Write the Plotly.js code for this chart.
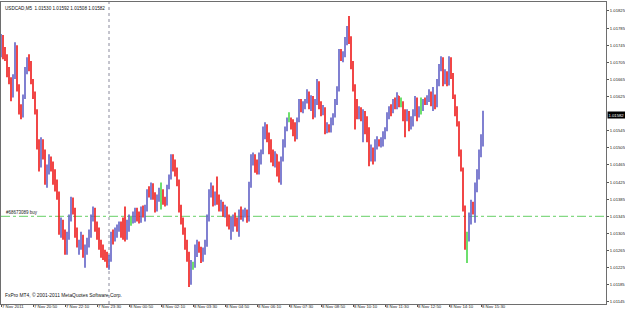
<!DOCTYPE html>
<html>
<head>
<meta charset="utf-8">
<script src="https://cdn.plot.ly/plotly-3.0.1.min.js"></script>
<style>html,body{margin:0;padding:0;background:#fff;}#chart{width:625px;height:313px;}</style>
</head>
<body>
<div id="chart"></div>
<script>
// USDCAD M5 bars, 7 Nov 2011 19:30 onward (5-minute bars)
const FIRST_BAR = '2011-11-07 19:30';
const OPEN = [1.01724,1.01764,1.01724,1.01717,1.01677,1.01661,1.01630,1.01670,1.01741,1.01647,
1.01595,1.01591,1.01623,1.01684,1.01712,1.01694,1.01661,1.01630,1.01591,1.01513,
1.01466,1.01520,1.01490,1.01436,1.01455,1.01478,1.01466,1.01431,1.01419,1.01396,
1.01319,1.01326,1.01302,1.01272,1.01300,1.01342,1.01384,1.01361,1.01309,1.01279,
1.01286,1.01295,1.01255,1.01267,1.01290,1.01302,1.01342,1.01361,1.01319,1.01302,
1.01279,1.01262,1.01255,1.01253,1.01243,1.01248,1.01295,1.01290,1.01309,1.01319,
1.01326,1.01309,1.01300,1.01295,1.01326,1.01337,1.01337,1.01351,1.01361,1.01342,
1.01335,1.01361,1.01349,1.01365,1.01403,1.01394,1.01417,1.01389,1.01365,1.01389,
1.01403,1.01403,1.01379,1.01375,1.01412,1.01436,1.01483,1.01459,1.01445,1.01426,
1.01365,1.01333,1.01309,1.01276,1.01248,1.01197,1.01234,1.01234,1.01267,1.01279,
1.01267,1.01248,1.01262,1.01281,1.01337,1.01396,1.01412,1.01384,1.01394,1.01379,
1.01365,1.01375,1.01351,1.01361,1.01333,1.01323,1.01333,1.01342,1.01328,1.01319,
1.01349,1.01342,1.01354,1.01356,1.01337,1.01419,1.01478,1.01487,1.01459,1.01450,
1.01478,1.01497,1.01544,1.01553,1.01530,1.01501,1.01483,1.01473,1.01490,1.01450,
1.01436,1.01478,1.01513,1.01548,1.01569,1.01569,1.01555,1.01541,1.01530,1.01572,
1.01609,1.01595,1.01605,1.01614,1.01635,1.01605,1.01619,1.01583,1.01612,1.01656,
1.01607,1.01591,1.01598,1.01548,1.01555,1.01546,1.01567,1.01581,1.01612,1.01642,
1.01724,1.01712,1.01722,1.01755,1.01783,1.01759,1.01701,1.01647,1.01595,1.01583,
1.01595,1.01576,1.01583,1.01548,1.01530,1.01478,1.01501,1.01478,1.01513,1.01520,
1.01513,1.01525,1.01537,1.01548,1.01579,1.01595,1.01591,1.01612,1.01605,1.01626,
1.01609,1.01609,1.01576,1.01572,1.01588,1.01553,1.01572,1.01586,1.01619,1.01583,
1.01595,1.01595,1.01614,1.01609,1.01623,1.01633,1.01609,1.01628,1.01605,1.01654,
1.01694,1.01712,1.01661,1.01680,1.01656,1.01712,1.01675,1.01626,1.01591,1.01562,
1.01497,1.01455,1.01365,1.01290,1.01290,1.01342,1.01372,1.01356,1.01412,1.01443,
1.01490,1.01530];
const HIGH = [1.01771,1.01769,1.01741,1.01724,1.01694,1.01670,1.01677,1.01752,1.01745,1.01654,
1.01607,1.01630,1.01694,1.01717,1.01724,1.01708,1.01666,1.01637,1.01595,1.01525,
1.01530,1.01525,1.01501,1.01466,1.01490,1.01485,1.01473,1.01455,1.01431,1.01403,
1.01342,1.01337,1.01314,1.01309,1.01349,1.01391,1.01389,1.01365,1.01319,1.01290,
1.01309,1.01302,1.01279,1.01295,1.01314,1.01349,1.01368,1.01365,1.01333,1.01319,
1.01290,1.01279,1.01267,1.01262,1.01255,1.01309,1.01314,1.01319,1.01326,1.01333,
1.01333,1.01342,1.01368,1.01337,1.01349,1.01344,1.01356,1.01365,1.01365,1.01356,
1.01368,1.01370,1.01372,1.01408,1.01415,1.01424,1.01422,1.01401,1.01396,1.01412,
1.01424,1.01408,1.01391,1.01419,1.01443,1.01490,1.01490,1.01478,1.01459,1.01431,
1.01372,1.01342,1.01319,1.01290,1.01262,1.01243,1.01239,1.01279,1.01290,1.01286,
1.01274,1.01272,1.01290,1.01349,1.01408,1.01424,1.01417,1.01403,1.01438,1.01396,
1.01384,1.01379,1.01372,1.01368,1.01349,1.01344,1.01349,1.01354,1.01342,1.01361,
1.01368,1.01361,1.01365,1.01361,1.01426,1.01490,1.01494,1.01490,1.01478,1.01494,
1.01501,1.01555,1.01565,1.01560,1.01541,1.01525,1.01501,1.01497,1.01490,1.01473,
1.01485,1.01525,1.01555,1.01576,1.01588,1.01576,1.01572,1.01565,1.01576,1.01619,
1.01619,1.01614,1.01619,1.01642,1.01637,1.01628,1.01626,1.01619,1.01666,1.01661,
1.01614,1.01605,1.01600,1.01565,1.01560,1.01576,1.01586,1.01619,1.01649,1.01736,
1.01736,1.01731,1.01764,1.01790,1.01813,1.01766,1.01708,1.01654,1.01619,1.01602,
1.01600,1.01595,1.01591,1.01579,1.01553,1.01513,1.01506,1.01525,1.01532,1.01525,
1.01530,1.01544,1.01553,1.01588,1.01602,1.01607,1.01619,1.01623,1.01635,1.01626,
1.01623,1.01614,1.01595,1.01595,1.01591,1.01579,1.01595,1.01626,1.01623,1.01602,
1.01623,1.01619,1.01623,1.01628,1.01642,1.01637,1.01647,1.01630,1.01666,1.01701,
1.01719,1.01717,1.01689,1.01684,1.01719,1.01717,1.01680,1.01630,1.01602,1.01567,
1.01501,1.01459,1.01370,1.01309,1.01354,1.01384,1.01379,1.01424,1.01455,1.01501,
1.01537,1.01592];
const LOW = [1.01717,1.01712,1.01708,1.01670,1.01654,1.01614,1.01623,1.01666,1.01637,1.01583,
1.01572,1.01576,1.01619,1.01677,1.01684,1.01654,1.01619,1.01583,1.01501,1.01450,
1.01459,1.01478,1.01419,1.01412,1.01443,1.01450,1.01419,1.01403,1.01384,1.01302,
1.01295,1.01290,1.01255,1.01255,1.01290,1.01333,1.01349,1.01295,1.01272,1.01255,
1.01267,1.01248,1.01225,1.01255,1.01272,1.01295,1.01333,1.01309,1.01290,1.01267,
1.01248,1.01243,1.01239,1.01225,1.01220,1.01239,1.01279,1.01286,1.01295,1.01309,
1.01295,1.01290,1.01286,1.01290,1.01309,1.01323,1.01328,1.01330,1.01333,1.01328,
1.01330,1.01342,1.01333,1.01356,1.01389,1.01384,1.01384,1.01354,1.01356,1.01379,
1.01361,1.01372,1.01368,1.01370,1.01408,1.01431,1.01450,1.01438,1.01415,1.01354,
1.01326,1.01302,1.01267,1.01239,1.01180,1.01185,1.01220,1.01225,1.01250,1.01260,
1.01236,1.01239,1.01255,1.01274,1.01333,1.01389,1.01368,1.01370,1.01372,1.01356,
1.01356,1.01344,1.01342,1.01321,1.01314,1.01290,1.01309,1.01321,1.01309,1.01297,
1.01337,1.01333,1.01342,1.01330,1.01333,1.01412,1.01464,1.01447,1.01443,1.01443,
1.01466,1.01490,1.01525,1.01518,1.01490,1.01471,1.01462,1.01459,1.01438,1.01424,
1.01419,1.01473,1.01506,1.01544,1.01565,1.01548,1.01532,1.01520,1.01525,1.01565,
1.01588,1.01586,1.01595,1.01609,1.01595,1.01591,1.01572,1.01576,1.01605,1.01595,
1.01579,1.01581,1.01537,1.01539,1.01541,1.01541,1.01558,1.01576,1.01605,1.01637,
1.01708,1.01705,1.01717,1.01745,1.01748,1.01689,1.01637,1.01548,1.01572,1.01572,
1.01567,1.01518,1.01537,1.01518,1.01462,1.01473,1.01466,1.01473,1.01501,1.01508,
1.01506,1.01508,1.01525,1.01544,1.01572,1.01579,1.01586,1.01595,1.01595,1.01600,
1.01600,1.01567,1.01530,1.01567,1.01544,1.01548,1.01555,1.01579,1.01567,1.01576,
1.01583,1.01591,1.01605,1.01605,1.01612,1.01602,1.01591,1.01595,1.01600,1.01649,
1.01684,1.01649,1.01654,1.01649,1.01651,1.01666,1.01619,1.01579,1.01555,1.01485,
1.01450,1.01356,1.01267,1.01236,1.01286,1.01326,1.01349,1.01330,1.01401,1.01431,
1.01483,1.01508];
const CLOSE = [1.01764,1.01724,1.01717,1.01677,1.01661,1.01630,1.01670,1.01741,1.01647,1.01595,
1.01591,1.01623,1.01684,1.01712,1.01694,1.01661,1.01630,1.01591,1.01513,1.01466,
1.01520,1.01490,1.01436,1.01455,1.01478,1.01466,1.01431,1.01419,1.01396,1.01319,
1.01326,1.01302,1.01272,1.01300,1.01342,1.01384,1.01361,1.01309,1.01279,1.01286,
1.01295,1.01255,1.01267,1.01290,1.01302,1.01342,1.01361,1.01319,1.01302,1.01279,
1.01262,1.01255,1.01253,1.01243,1.01248,1.01295,1.01290,1.01309,1.01319,1.01326,
1.01309,1.01300,1.01295,1.01326,1.01337,1.01337,1.01351,1.01361,1.01342,1.01335,
1.01361,1.01349,1.01365,1.01403,1.01394,1.01417,1.01389,1.01365,1.01389,1.01403,
1.01403,1.01379,1.01375,1.01412,1.01436,1.01483,1.01459,1.01445,1.01426,1.01365,
1.01333,1.01309,1.01276,1.01248,1.01197,1.01234,1.01234,1.01267,1.01279,1.01267,
1.01248,1.01262,1.01281,1.01337,1.01396,1.01412,1.01384,1.01394,1.01379,1.01365,
1.01375,1.01351,1.01361,1.01333,1.01323,1.01333,1.01342,1.01328,1.01319,1.01349,
1.01342,1.01354,1.01356,1.01337,1.01419,1.01478,1.01487,1.01459,1.01450,1.01478,
1.01497,1.01544,1.01553,1.01530,1.01501,1.01483,1.01473,1.01490,1.01450,1.01436,
1.01478,1.01513,1.01548,1.01569,1.01569,1.01555,1.01541,1.01530,1.01572,1.01609,
1.01595,1.01605,1.01614,1.01635,1.01605,1.01619,1.01583,1.01612,1.01656,1.01607,
1.01591,1.01598,1.01548,1.01555,1.01546,1.01567,1.01581,1.01612,1.01642,1.01724,
1.01712,1.01722,1.01755,1.01783,1.01759,1.01701,1.01647,1.01595,1.01583,1.01595,
1.01576,1.01583,1.01548,1.01530,1.01478,1.01501,1.01478,1.01513,1.01520,1.01513,
1.01525,1.01537,1.01548,1.01579,1.01595,1.01591,1.01612,1.01605,1.01626,1.01609,
1.01609,1.01576,1.01572,1.01588,1.01553,1.01572,1.01586,1.01619,1.01583,1.01595,
1.01595,1.01614,1.01609,1.01623,1.01633,1.01609,1.01628,1.01605,1.01654,1.01694,
1.01712,1.01661,1.01680,1.01656,1.01712,1.01675,1.01626,1.01591,1.01562,1.01497,
1.01455,1.01365,1.01290,1.01290,1.01342,1.01372,1.01356,1.01412,1.01443,1.01490,
1.01530,1.01582];

const TICK_TIMES = ['2011-11-07 19:30','2011-11-07 20:50','2011-11-07 22:10','2011-11-07 23:30',
'2011-11-08 00:50','2011-11-08 02:10','2011-11-08 03:30','2011-11-08 04:50','2011-11-08 06:10',
'2011-11-08 07:30','2011-11-08 08:50','2011-11-08 10:10','2011-11-08 11:30','2011-11-08 12:50',
'2011-11-08 14:10','2011-11-08 15:30'];
const TICK_LABELS = ['7 Nov 2011','7 Nov 20:50','7 Nov 22:10','7 Nov 23:30','8 Nov 00:50','8 Nov 02:10',
'8 Nov 03:30','8 Nov 04:50','8 Nov 06:10','8 Nov 07:30','8 Nov 08:50','8 Nov 10:10','8 Nov 11:30',
'8 Nov 12:50','8 Nov 14:10','8 Nov 15:30'];
const PRICE_TICKS = [1.01145,1.01185,1.01225,1.01265,1.01305,1.01345,1.01385,1.01425,1.01465,
1.01505,1.01545,1.01625,1.01665,1.01705,1.01745,1.01785,1.01825];
const ORDER_LEVEL = 1.01345;
const ORDER_LABEL = '#68673089 buy';
const DAY_SEPARATOR = '2011-11-08 00:00';
const HEADER = 'USDCAD,M5  1.01530 1.01592 1.01508 1.01582';
const FOOTER = 'FxPro MT4, \u00a9 2001-2011 MetaQuotes Software Corp.';

function pad(n){return (n<10?'0':'')+n;}
const t0 = new Date(FIRST_BAR.replace(' ','T')+':00Z').getTime();
function fmt(ms){const d=new Date(ms);
  return d.getUTCFullYear()+'-'+pad(d.getUTCMonth()+1)+'-'+pad(d.getUTCDate())+' '+pad(d.getUTCHours())+':'+pad(d.getUTCMinutes())+':'+pad(d.getUTCSeconds());}
const TIMES = OPEN.map((_,i)=>fmt(t0+i*300000));

function subset(pred){
  const s={x:[],open:[],high:[],low:[],close:[]};
  OPEN.forEach((o,i)=>{ if(pred(i)){ s.x.push(TIMES[i]); s.open.push(o); s.high.push(HIGH[i]); s.low.push(LOW[i]); s.close.push(CLOSE[i]); }});
  return s;
}
const main = subset(i=>OPEN[i]!==CLOSE[i]);
const doji = subset(i=>OPEN[i]===CLOSE[i]);

const BLUE='#6262c6', RED='#ee1a1a', GREEN='#4ad84a';
const traces=[
  Object.assign({type:'ohlc', tickwidth:0.35, hoverinfo:'skip', showlegend:false,
    increasing:{line:{color:BLUE,width:1.6}}, decreasing:{line:{color:RED,width:1.6}}}, main),
  Object.assign({type:'ohlc', tickwidth:0.35, hoverinfo:'skip', showlegend:false,
    increasing:{line:{color:GREEN,width:1.6}}, decreasing:{line:{color:GREEN,width:1.6}}}, doji)
];

const FONT = '"Liberation Sans",Arial,sans-serif';

const layout={
  width:625, height:313,
  margin:{l:1,r:19,t:2,b:9,pad:0},
  paper_bgcolor:'#ffffff', plot_bgcolor:'#ffffff',
  showlegend:false,
  font:{family:FONT,size:4.5,color:'#222'},
  xaxis:{type:'date', range:[fmt(t0), fmt(t0+302.5*300000)], rangeslider:{visible:false},
    tickmode:'array', tickvals:TICK_TIMES, ticktext:TICK_LABELS, ticks:'outside', ticklen:2,
    tickangle:0,
    tickcolor:'#555', tickfont:{family:FONT,size:4.3,color:'#222'}, ticklabelposition:'outside right',
    ticklabelstandoff:-2,
    showgrid:false, zeroline:false, showline:true, mirror:true, linecolor:'#6e6e6e', linewidth:1,
    automargin:false, fixedrange:true},
  yaxis:{side:'right', range:[1.01140,1.01846], tickmode:'array', tickvals:PRICE_TICKS,
    ticktext:PRICE_TICKS.map(v=>v.toFixed(5)), ticks:'outside', ticklen:2, tickcolor:'#555',
    tickfont:{family:FONT,size:4.2,color:'#222'},
    showgrid:false, zeroline:false, showline:true, mirror:true, linecolor:'#6e6e6e', linewidth:1,
    automargin:false, fixedrange:true},
  shapes:[
    {type:'line', xref:'paper', x0:0, x1:1, yref:'y', y0:ORDER_LEVEL, y1:ORDER_LEVEL, layer:'below',
      line:{color:'#66d066', width:1, dash:'dashdot'}},
    {type:'line', xref:'x', x0:DAY_SEPARATOR, x1:DAY_SEPARATOR, yref:'paper', y0:0, y1:1, layer:'below',
      line:{color:'#8a8a9c', width:1, dash:'dot'}}
  ],
  annotations:[
    {xref:'paper', yref:'paper', x:0, y:1, xanchor:'left', yanchor:'top', xshift:2, yshift:-2,
      text:HEADER, showarrow:false, font:{family:FONT,size:4.6,color:'#111'}},
    {xref:'paper', yref:'paper', x:0, y:0, xanchor:'left', yanchor:'bottom', xshift:2, yshift:4,
      text:FOOTER, showarrow:false, font:{family:FONT,size:4.9,color:'#111'}},
    {xref:'paper', yref:'y', x:0, y:ORDER_LEVEL, xanchor:'left', yanchor:'bottom', xshift:3, yshift:-1,
      text:ORDER_LABEL, showarrow:false, font:{family:FONT,size:4.5,color:'#222'}},
    {xref:'paper', yref:'y', x:1, y:CLOSE[CLOSE.length-1], xanchor:'left', yanchor:'middle', xshift:1,
      text:CLOSE[CLOSE.length-1].toFixed(5), showarrow:false, bgcolor:'#000000', borderpad:0.5,
      font:{family:FONT,size:4.2,color:'#ffffff'}}
  ]
};
Plotly.newPlot('chart', traces, layout, {staticPlot:true, displayModeBar:false});
</script>
</body>
</html>
